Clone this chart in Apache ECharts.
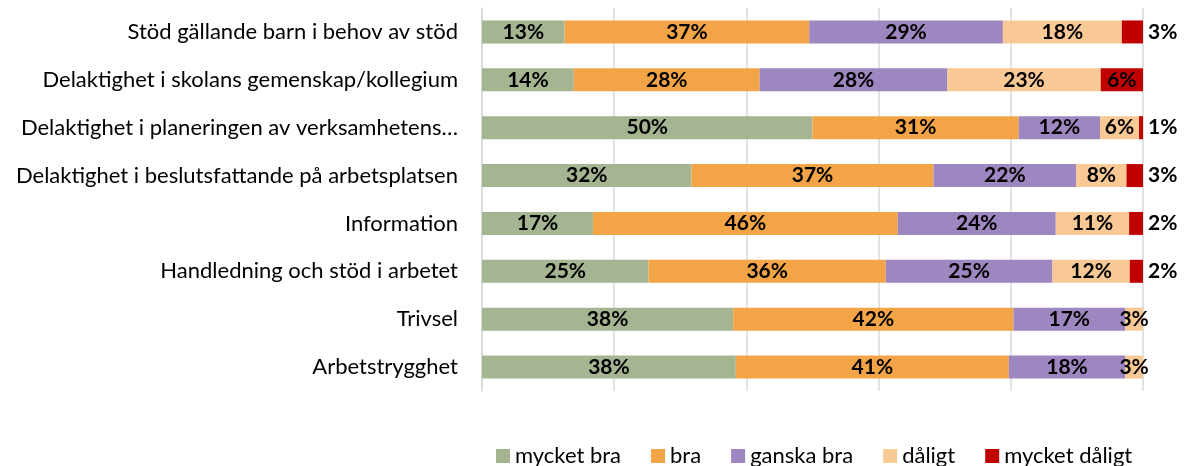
<!DOCTYPE html>
<html>
<head>
<meta charset="utf-8">
<script src="https://cdn.jsdelivr.net/npm/echarts@6/dist/echarts.min.js"></script>
<style>
  html, body { margin: 0; padding: 0; background: #fff; }
  #chart { width: 1190px; height: 466px; }
</style>
</head>
<body>
<div id="chart"></div>
<script>
// kategorier (uppifrån och ned)
const categories = [
  'Stöd gällande barn i behov av stöd',
  'Delaktighet i skolans gemenskap/kollegium',
  'Delaktighet i planeringen av verksamhetens…',
  'Delaktighet i beslutsfattande på arbetsplatsen',
  'Information',
  'Handledning och stöd i arbetet',
  'Trivsel',
  'Arbetstrygghet'
]

const seriesNames = ['mycket bra', 'bra', 'ganska bra', 'dåligt', 'mycket dåligt']

// andelar i procent
const mycketBra = [12.5, 13.9, 50.0, 31.7, 16.8, 25.2, 38.0, 38.4]
const bra = [37.0, 28.1, 31.2, 36.6, 46.1, 35.9, 42.4, 41.3]
const ganskaBra = [29.3, 28.4, 12.3, 21.6, 23.9, 25.2, 16.9, 17.6]
const daligt = [18.0, 23.2, 5.9, 7.6, 11.1, 11.7, 2.7, 2.7]
const mycketDaligt = [3.2, 6.4, 0.6, 2.6, 2.1, 2.1, 0, 0]

const colors = ['#A5B592', '#F3A447', '#9E86C1', '#F8C895', '#C00000']

const chart = echarts.init(document.getElementById('chart'))

const labelFmt = p => (p.value > 0 ? Math.round(p.value) + '%' : '')
const baseLabel = {
  show: true,
  position: 'inside',
  color: '#000',
  fontFamily: 'Lato',
  fontWeight: 'bold',
  fontSize: 21,
  formatter: labelFmt
}

function makeSeries (name, values, color, idx) {
  let data = values
  if (idx === 4) {
    // sista serien: etiketten till höger om stapeln, utom där den får plats
    data = values.map(v => (v >= 5 ? v : { value: v, label: { position: 'right', distance: 5 } }))
  }
  return {
    name,
    type: 'bar',
    stack: 'total',
    barWidth: 23,
    itemStyle: { color },
    label: baseLabel,
    emphasis: { disabled: true },
    data
  }
}

const series = [
  makeSeries(seriesNames[0], mycketBra, colors[0], 0),
  makeSeries(seriesNames[1], bra, colors[1], 1),
  makeSeries(seriesNames[2], ganskaBra, colors[2], 2),
  makeSeries(seriesNames[3], daligt, colors[3], 3),
  makeSeries(seriesNames[4], mycketDaligt, colors[4], 4)
]

chart.setOption({
  animation: false,
  textStyle: { fontFamily: 'Lato' },
  grid: { left: 482, right: 47, top: 8, bottom: 75 },
  legend: {
    data: seriesNames,
    left: 491,
    top: 440,
    icon: 'rect',
    itemWidth: 14,
    itemHeight: 14,
    itemGap: 30,
    textStyle: { fontSize: 22, color: '#000', fontFamily: 'Lato' }
  },
  xAxis: {
    type: 'value',
    min: 0,
    max: 100,
    interval: 20,
    axisLabel: { show: false },
    axisLine: { show: false },
    axisTick: { show: false },
    splitLine: { lineStyle: { color: '#d9d9d9', width: 1.5 } }
  },
  yAxis: {
    type: 'category',
    inverse: true,
    data: categories,
    axisLine: { lineStyle: { color: '#d9d9d9', width: 1.5 } },
    axisTick: { show: false },
    axisLabel: { color: '#000', fontSize: 22, fontFamily: 'Lato', margin: 24 }
  },
  series
})
</script>
</body>
</html>
